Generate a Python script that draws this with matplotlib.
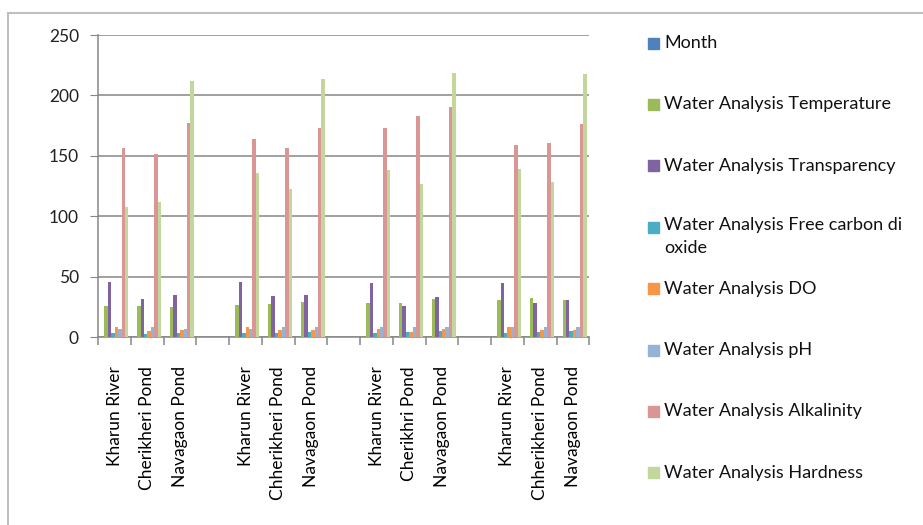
import numpy as np
import matplotlib
matplotlib.use("Agg")
import matplotlib.pyplot as plt
from matplotlib.lines import Line2D
from matplotlib.patches import Rectangle

plt.rcParams["font.family"] = ["Lato", "DejaVu Sans"]

sites = ["Kharun River", "Cherikheri Pond", "Navagaon Pond", "",
         "Kharun River", "Chherikheri Pond", "Navagaon Pond", "",
         "Kharun River", "Cherikhri Pond", "Navagaon Pond", "",
         "Kharun River", "Chherikheri Pond", "Navagaon Pond"]

# None marks the empty spacer slots between months
month = [0, 0, 0, None, 0, 0, 0, None, 0, 0, 0, None, 0, 0, 0]
temperature = [25.4, 25.4, 24.6, None, 26.2, 27.3, 29.3, None, 28.5, 28.5, 31.2, None, 30.4, 32.3, 30.4]
transparency = [45.9, 31.2, 35.1, None, 45.9, 34.3, 35.1, None, 45.0, 25.4, 33.1, None, 45.0, 28.5, 30.4]
free_co2 = [3.3, 2.2, 3.3, None, 3.3, 3.3, 4.1, None, 3.3, 4.1, 5.0, None, 3.3, 4.1, 5.0]
do = [8.0, 5.2, 6.1, None, 8.0, 6.1, 6.1, None, 6.9, 4.1, 6.9, None, 8.0, 6.1, 6.1]
ph = [6.9, 8.0, 6.9, None, 6.9, 8.0, 8.0, None, 8.0, 8.0, 8.0, None, 8.0, 8.0, 8.0]
alkalinity = [156.4, 151.7, 176.8, None, 163.5, 156.6, 172.9, None, 172.9, 182.6, 190.3, None, 158.6, 160.5, 176.0]
hardness = [108.0, 111.9, 211.9, None, 135.4, 122.4, 213.8, None, 138.1, 126.5, 218.8, None, 139.0, 128.2, 217.7]

series = [
    ("Month", month, "#4F81BD"),
    ("Water Analysis Temperature", temperature, "#9BBB59"),
    ("Water Analysis Transparency", transparency, "#8064A2"),
    ("Water Analysis Free carbon di\noxide", free_co2, "#4BACC6"),
    ("Water Analysis DO", do, "#F79646"),
    ("Water Analysis pH", ph, "#95B3D7"),
    ("Water Analysis Alkalinity", alkalinity, "#D99694"),
    ("Water Analysis Hardness", hardness, "#C3D69B"),
]

W, H = 923, 525
fig = plt.figure(figsize=(W / 100, H / 100), dpi=100)
ax = fig.add_axes([98.3 / W, 1 - 337 / H, (589.3 - 98.3) / W, (337 - 35) / H])

x = np.arange(len(sites))
n = len(series)
bw = 1 / (n + 1.5)
for k, (name, vals, col) in enumerate(series):
    v = np.array([np.nan if a is None else a for a in vals], dtype=float)
    ax.bar(x + (k - (n - 1) / 2) * bw, np.nan_to_num(v), width=bw, color=col, linewidth=0, zorder=3)

grid = "#868686"
ax.set_xlim(-0.5, len(sites) - 0.5)
ax.set_ylim(0, 250)
ax.set_yticks(range(0, 251, 50))
ax.yaxis.grid(True, color=grid, linewidth=1.1)
ax.set_axisbelow(True)
for s in ["top", "right"]:
    ax.spines[s].set_visible(False)
for s in ["left", "bottom"]:
    ax.spines[s].set_color(grid)
    ax.spines[s].set_linewidth(1.1)

ax.tick_params(axis="y", length=6, color=grid, labelsize=12.5, pad=8, labelcolor="#222222")
ax.set_xticks(x)
ax.set_xticklabels(sites, rotation=90, va="top", ha="center", fontsize=12.5)
ax.set_xticks(np.arange(len(sites) + 1) - 0.5, minor=True)
ax.tick_params(axis="x", which="major", length=0, pad=21)
ax.tick_params(axis="x", which="minor", length=6, color=grid, width=1.1)

# legend on the right
for k, (name, vals, col) in enumerate(series):
    yc = 1 - (43 + k * 61.4) / H
    fig.patches.append(Rectangle((648 / W, yc - 5.5 / H), 11 / W, 11 / H,
                                 transform=fig.transFigure, color=col))
    if "\n" in name:
        fig.text(664 / W, yc + 10 / H, name, va="top", fontsize=13,
                 color="#111111", linespacing=1.55)
    else:
        fig.text(664 / W, yc, name, va="center", fontsize=13, color="#111111")

# outer chart frame
fr = "#BFBFBF"
fig.lines.append(Line2D([8 / W, 8 / W], [0, 1 - 13 / H], color=fr, lw=1.5, transform=fig.transFigure))
fig.lines.append(Line2D([8 / W, 1], [1 - 13 / H, 1 - 13 / H], color=fr, lw=1.5, transform=fig.transFigure))

fig.savefig("out.png", dpi=100)
